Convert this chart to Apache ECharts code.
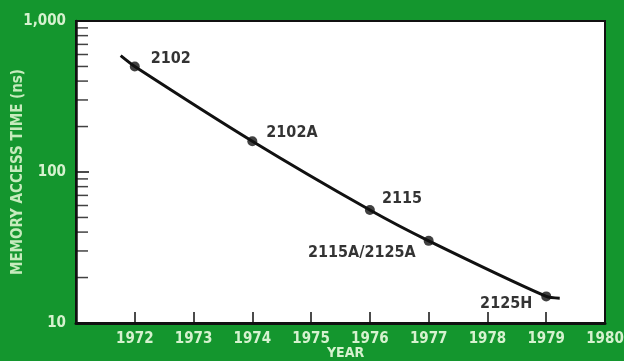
<!DOCTYPE html>
<html>
<head>
<meta charset="utf-8">
<script src="https://cdn.jsdelivr.net/npm/echarts@6/dist/echarts.min.js"></script>
<style>
  html, body { margin: 0; padding: 0; background: #14962e; }
  #chart { width: 624px; height: 361px; }
</style>
</head>
<body>
<div id="chart"></div>
<script>
// Memory parts, year of introduction and access time (ns)
const parts = ['2102', '2102A', '2115', '2115A/2125A', '2125H'];
const partYears = [1972, 1974, 1976, 1977, 1979];
const accessTimes = [500, 160, 56, 35, 15];

// Trend curve drawn through the parts, running a little past both ends
const trendYears = [1971.76, 1972, 1974, 1976, 1977, 1979, 1979.23];
const trendTimes = [590, 500, 160, 56, 35, 15, 14.6];

// Axis ticks
const yearTicks = [1972, 1973, 1974, 1975, 1976, 1977, 1978, 1979, 1980];
const minorTimes = [20, 30, 40, 50, 60, 70, 80, 90, 200, 300, 400, 500, 600, 700, 800, 900];

const FONT = '"DejaVu Sans Condensed", "Liberation Sans", sans-serif';
const LIGHT = '#d6f2cf';
const INK = '#111111';

// Label placement for each part name around its dot
const labelPlace = [
  { position: 'right', offset: [6, -8] },
  { position: 'right', offset: [4, -8] },
  { position: 'right', offset: [2, -11] },
  { position: 'left', offset: [-3, 12] },
  { position: 'left', offset: [-4, 7] }
];

const chart = echarts.init(document.getElementById('chart'), null, { renderer: 'canvas' });

chart.setOption({
  backgroundColor: '#14962e',
  animation: false,
  grid: {
    left: 76, right: 19, top: 21, bottom: 38,
    outerBoundsMode: 'none',
    containLabel: false,
    show: true, backgroundColor: '#ffffff',
    borderColor: INK, borderWidth: 2
  },
  xAxis: {
    type: 'value', min: 1971, max: 1980, interval: 1,
    name: 'YEAR', nameLocation: 'middle', nameGap: 23, nameMoveOverlap: false,
    nameTextStyle: { color: LIGHT, fontFamily: FONT, fontWeight: 'bold', fontSize: 14, padding: [0, 0, 0, 10] },
    axisLine: { show: true, onZero: false, lineStyle: { color: INK, width: 3 } },
    axisTick: {
      show: true, inside: true, length: 11, lineStyle: { color: INK, width: 1.5 },
      customValues: yearTicks.slice(0, -1)
    },
    axisLabel: {
      color: LIGHT, fontFamily: FONT, fontWeight: 'bold', fontSize: 15, margin: 9,
      customValues: yearTicks,
      formatter: v => String(v)
    },
    splitLine: { show: false }
  },
  yAxis: {
    type: 'log', logBase: 10, min: 10, max: 1000,
    name: 'MEMORY ACCESS TIME (ns)', nameLocation: 'middle', nameGap: 50, nameRotate: 90, nameMoveOverlap: false,
    nameTextStyle: { color: '#c6ebbd', fontFamily: FONT, fontWeight: 'bold', fontSize: 15 },
    axisLine: { show: true, lineStyle: { color: INK, width: 2.5 } },
    axisTick: { show: true, inside: true, length: 13, lineStyle: { color: INK, width: 1.5 } },
    axisLabel: {
      color: LIGHT, fontFamily: FONT, fontWeight: 'bold', fontSize: 15, margin: 10,
      formatter: v => v >= 1000 ? v.toLocaleString('en-US') : String(v)
    },
    splitLine: { show: false },
    minorTick: { show: false }
  },
  series: [
    {
      // minor log ticks along the left axis
      type: 'scatter',
      silent: true,
      clip: false,
      symbol: 'rect',
      symbolSize: [12, 1.5],
      symbolOffset: [6, 0],
      itemStyle: { color: INK },
      data: minorTimes.map(v => [1971, v]),
      z: 3
    },
    {
      type: 'line',
      smooth: 0.25,
      showSymbol: false,
      lineStyle: { color: INK, width: 3 },
      data: trendYears.map((y, i) => [y, trendTimes[i]]),
      z: 4
    },
    {
      type: 'scatter',
      symbol: 'circle',
      symbolSize: 10,
      itemStyle: { color: INK },
      label: {
        show: true, color: '#000000', fontFamily: FONT, fontWeight: 'bold', fontSize: 16,
        formatter: p => p.name
      },
      data: partYears.map((y, i) => ({
        name: parts[i],
        value: [y, accessTimes[i]],
        label: labelPlace[i]
      })),
      z: 5
    }
  ]
});
</script>
</body>
</html>
